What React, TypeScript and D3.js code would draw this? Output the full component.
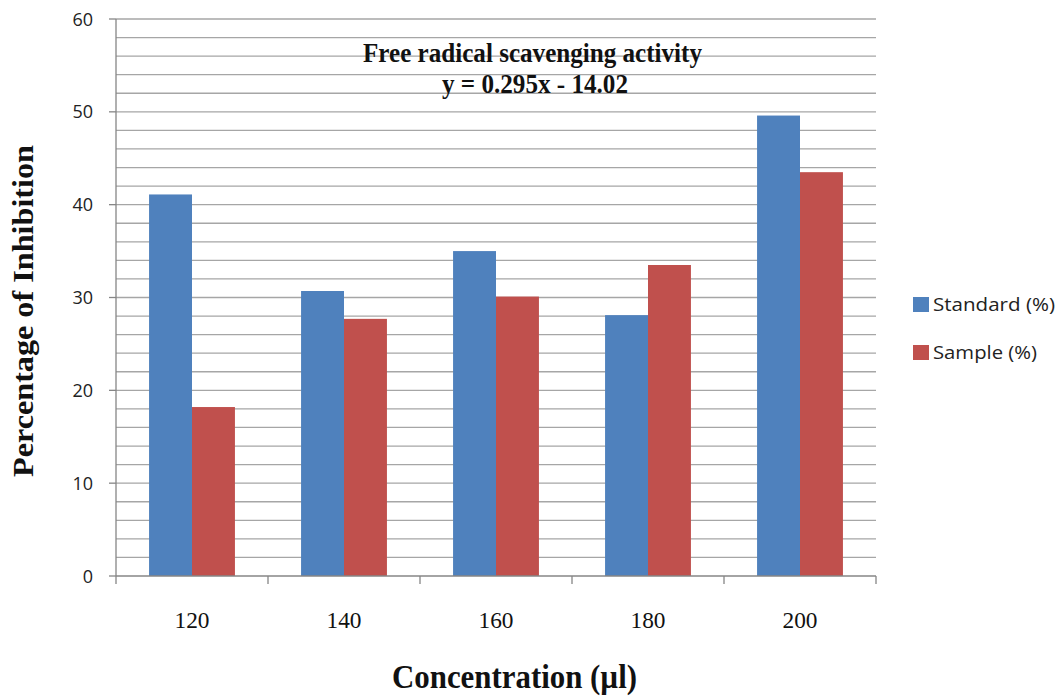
import React from "react";
import * as d3 from "d3";

const categories = ["120", "140", "160", "180", "200"];
const seriesNames = ["Standard (%)", "Sample (%)"];
const standardValues = [41.1, 30.7, 35.0, 28.1, 49.6];
const sampleValues = [18.2, 27.7, 30.1, 33.5, 43.5];
const yTicks = [0, 10, 20, 30, 40, 50, 60];
const colors = ["#4F81BD", "#C0504D"];

const W = 1062;
const H = 699;
const plot = { left: 116, right: 876, top: 19, bottom: 576 };

export default function App() {
  const x = d3.scaleBand<string>().domain(categories).range([plot.left, plot.right]).paddingInner(0).paddingOuter(0);
  const xInner = d3.scaleBand<string>().domain(seriesNames).range([0, x.bandwidth()]).paddingInner(0).paddingOuter(0.77);
  const y = d3.scaleLinear().domain([0, 60]).range([plot.bottom, plot.top]);
  const grid = d3.range(2, 61, 2);
  const series = [standardValues, sampleValues];
  const tickXs = categories.map((c) => x(c)!).concat([plot.right]);

  return (
    <svg width={W} height={H} style={{ position: "absolute", left: 0, top: 0, background: "#fff" }}>
      <rect x={0} y={0} width={W} height={H} fill="#fff" />
      {grid.map((g) => (
        <line key={g} x1={plot.left} x2={plot.right} y1={y(g)} y2={y(g)} stroke="#a6a6a6" strokeWidth={1.3} />
      ))}
      {series.map((vals, si) =>
        vals.map((v, i) => (
          <rect
            key={`${si}-${i}`}
            x={x(categories[i])! + xInner(seriesNames[si])!}
            y={y(v)}
            width={xInner.bandwidth()}
            height={y(0) - y(v)}
            fill={colors[si]}
          />
        ))
      )}
      {/* axes */}
      <line x1={plot.left} x2={plot.left} y1={plot.top} y2={plot.bottom} stroke="#868686" strokeWidth={1.3} />
      <line x1={plot.left} x2={plot.right} y1={plot.bottom} y2={plot.bottom} stroke="#868686" strokeWidth={1.3} />
      {yTicks.map((t) => (
        <g key={t}>
          <line x1={plot.left - 7} x2={plot.left} y1={y(t)} y2={y(t)} stroke="#868686" strokeWidth={1.3} />
          <text x={93} y={y(t) + 6.5} textAnchor="end" fontFamily="'Open Sans', sans-serif" fontSize={18} fill="#222">
            {t}
          </text>
        </g>
      ))}
      {tickXs.map((tx, i) => (
        <line key={i} x1={tx} x2={tx} y1={plot.bottom} y2={plot.bottom + 8} stroke="#868686" strokeWidth={1.3} />
      ))}
      {categories.map((c) => (
        <text
          key={c}
          x={x(c)! + x.bandwidth() / 2}
          y={628}
          textAnchor="middle"
          fontFamily="'Liberation Serif', serif"
          fontSize={23}
          fill="#111"
          textLength={35}
          lengthAdjust="spacingAndGlyphs"
        >
          {c}
        </text>
      ))}
      {/* title */}
      <text x={532.5} y={62} textAnchor="middle" fontFamily="'Liberation Serif', serif" fontWeight="bold" fontSize={27} fill="#111" textLength={339} lengthAdjust="spacingAndGlyphs">
        Free radical scavenging activity
      </text>
      <text x={535} y={93} textAnchor="middle" fontFamily="'Liberation Serif', serif" fontWeight="bold" fontSize={27} fill="#111" textLength={186} lengthAdjust="spacingAndGlyphs">
        y = 0.295x - 14.02
      </text>
      {/* axis titles */}
      <text x={514.5} y={688} textAnchor="middle" fontFamily="'Liberation Serif', serif" fontWeight="bold" fontSize={33} fill="#111" textLength={245} lengthAdjust="spacingAndGlyphs">
        Concentration (µl)
      </text>
      <text
        transform={`translate(33, 311) rotate(-90)`}
        textAnchor="middle"
        fontFamily="'Liberation Serif', serif"
        fontWeight="bold"
        fontSize={29}
        fill="#111"
        textLength={332}
        lengthAdjust="spacingAndGlyphs"
      >
        Percentage of Inhibition
      </text>
      {/* legend */}
      {seriesNames.map((s, i) => (
        <g key={s}>
          <rect x={913} y={297 + i * 48} width={16} height={15} fill={colors[i]} />
          <text x={933} y={311 + i * 48} fontFamily="'Open Sans', sans-serif" fontSize={19} fill="#222" textLength={i === 0 ? 122 : 104} lengthAdjust="spacingAndGlyphs">
            {s}
          </text>
        </g>
      ))}
    </svg>
  );
}
